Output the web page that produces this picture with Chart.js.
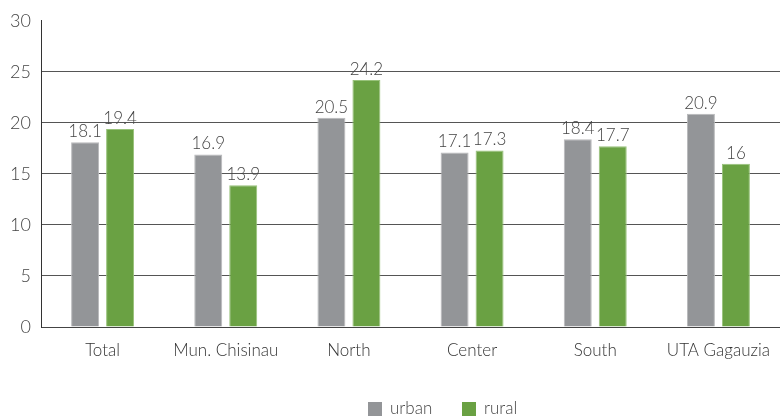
<!DOCTYPE html>
<html>
<head>
<meta charset="utf-8">
<script src="https://cdn.jsdelivr.net/npm/chart.js@4.4.1/dist/chart.umd.min.js"></script>
<style>
  html, body { margin: 0; padding: 0; background: #fff; }
  #wrap { width: 780px; height: 418px; position: relative; }
</style>
</head>
<body>
<div id="wrap"><canvas id="chart" width="780" height="418"></canvas></div>
<script>
// donnees
const categories = ['Total', 'Mun. Chisinau', 'North', 'Center', 'South', 'UTA Gagauzia'];
const urbanValues = [18.1, 16.9, 20.5, 17.1, 18.4, 20.9];
const ruralValues = [19.4, 13.9, 24.2, 17.3, 17.7, 16];
const yTicks = [0, 5, 10, 15, 20, 25, 30];

const seriesNames = ['urban', 'rural'];
const seriesColors = ['#939598', '#6aa143'];
const seriesBorders = ['#b8b9bb', '#98c27a'];
const fontFamily = 'Lato, "Open Sans", sans-serif';

// etiquettes de valeur au-dessus des barres
const valueLabels = {
    id: 'valueLabels',
    afterDatasetsDraw(chart) {
        const ctx = chart.ctx;
        ctx.save();
        ctx.font = '300 17px ' + fontFamily;
        ctx.fillStyle = '#444';
        ctx.textAlign = 'center';
        ctx.textBaseline = 'bottom';
        chart.data.datasets.forEach((ds, i) => {
            chart.getDatasetMeta(i).data.forEach((bar, j) => {
                ctx.fillText(String(ds.data[j]), bar.x, bar.y - 2);
            });
        });
        ctx.restore();
    }
};

// legende dessinee a la main (decalee comme sur l'original)
const bottomLegend = {
    id: 'bottomLegend',
    afterDraw(chart) {
        const ctx = chart.ctx;
        ctx.save();
        ctx.font = '300 17px ' + fontFamily;
        ctx.textBaseline = 'middle';
        let x = 368;
        const y = 409;
        seriesNames.forEach((name, i) => {
            ctx.fillStyle = seriesColors[i];
            ctx.fillRect(x, y - 7, 14, 14);
            ctx.fillStyle = '#444';
            ctx.fillText(name, x + 22, y);
            x += 94;
        });
        ctx.restore();
    }
};

const chart = new Chart(document.getElementById('chart'), {
    type: 'bar',
    data: {
        labels: categories,
        datasets: [{
            label: seriesNames[0],
            data: urbanValues,
            backgroundColor: seriesColors[0],
            borderColor: seriesBorders[0],
            borderWidth: 1
        }, {
            label: seriesNames[1],
            data: ruralValues,
            backgroundColor: seriesColors[1],
            borderColor: seriesBorders[1],
            borderWidth: 1
        }]
    },
    options: {
        responsive: false,
        animation: false,
        layout: { padding: { top: 17, right: 0, left: 0, bottom: 0 } },
        categoryPercentage: 0.568,
        barPercentage: 0.8,
        plugins: {
            legend: { display: false },
            tooltip: { enabled: false }
        },
        scales: {
            x: {
                grid: { display: false },
                border: { display: true, color: '#444', width: 1 },
                ticks: {
                    color: '#333',
                    font: { family: fontFamily, size: 17, weight: '300' },
                    padding: 5,
                    maxRotation: 0,
                    autoSkip: false
                },
                afterFit(scale) { scale.height = 91; }
            },
            y: {
                min: 0,
                max: 30,
                afterBuildTicks(scale) { scale.ticks = yTicks.map(v => ({ value: v })); },
                grid: {
                    color: ctx => (ctx.tick && ctx.tick.value === 30) ? 'rgba(0,0,0,0)' : '#555',
                    lineWidth: 1,
                    drawTicks: false
                },
                border: { display: true, color: '#333', width: 1 },
                ticks: {
                    color: '#444',
                    font: { family: fontFamily, size: 18, weight: '300' },
                    padding: 10
                },
                afterFit(scale) { scale.width = 41; }
            }
        }
    },
    plugins: [valueLabels, bottomLegend]
});
</script>
</body>
</html>
